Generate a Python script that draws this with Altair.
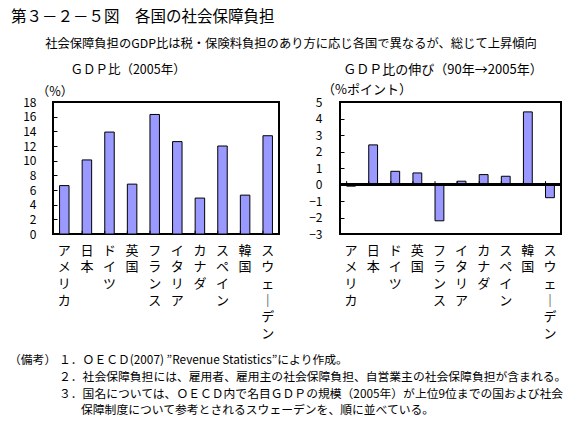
import altair as alt
import pandas as pd

countries = ["アメリカ", "日本", "ドイツ", "英国", "フランス", "イタリア", "カナダ", "スペイン", "韓国", "スウェーデン"]
ratio_2005 = [6.6, 10.1, 13.9, 6.8, 16.3, 12.6, 4.9, 12.0, 5.3, 13.4]
growth_90_05 = [-0.1, 2.4, 0.8, 0.7, -2.2, 0.2, 0.6, 0.5, 4.4, -0.8]
left_ticks = [0, 2, 4, 6, 8, 10, 12, 14, 16, 18]
right_ticks = [-3, -2, -1, 0, 1, 2, 3, 4, 5]

main_title = "第３－２－５図　各国の社会保障負担"
subtitle = "社会保障負担のGDP比は税・保険料負担のあり方に応じ各国で異なるが、総じて上昇傾向"
left_title = "ＧＤＰ比（2005年）"
right_title = "ＧＤＰ比の伸び（90年→2005年）"
left_unit = "（%）"
right_unit = "（%ポイント）"
notes_head = "（備考）"
notes = [
    "１．ＯＥＣＤ(2007) \u201dRevenue Statistics\u201dにより作成。",
    "２．社会保障負担には、雇用者、雇用主の社会保障負担、自営業主の社会保障負担が含まれる。",
    "３．国名については、ＯＥＣＤ内で名目ＧＤＰの規模（2005年）が上位9位までの国および社会",
    "保障制度について参考とされるスウェーデンを、順に並べている。",
]

FONT = "Noto Sans CJK JP"
BAR = "#9999FF"

df_left = pd.DataFrame({"country": countries, "value": ratio_2005})
df_right = pd.DataFrame({"country": countries, "value": growth_90_05})

label_expr = "split(replace(datum.label, 'ー', '｜'), '')"

XAXIS = alt.Axis(
    title=None, labelAngle=0, labelExpr=label_expr, labelLineHeight=16.7,
    labelBaseline="top", labelAlign="center", labelFont=FONT, labelFontSize=13,
    labelColor="black", ticks=False, domain=False, labelPadding=10,
    labelOverlap=False,
)


def xenc(pad, band=None):
    kw = {}
    if band is not None:
        kw["bandPosition"] = band
    return alt.X(
        "country:N",
        sort=countries,
        scale=alt.Scale(paddingInner=pad, paddingOuter=pad / 2),
        axis=XAXIS,
        **kw,
    )


def yaxis(values, pad):
    return alt.Axis(
        title=None, values=values, grid=False, domain=False, offset=-4, tickSize=4,
        tickColor="black", labelPadding=pad, labelFont=FONT, labelFontSize=12,
        labelColor="black", labelOverlap=False, labelFlush=False, labelBound=False,
    )


def txt(s, x, y, size=12, align="left"):
    return alt.Chart(pd.DataFrame({"t": [s]})).mark_text(
        font=FONT, fontSize=size, align=align, baseline="middle", color="black"
    ).encode(x=alt.value(x), y=alt.value(y), text="t:N")


def panel_layers(df, pad, domain, ticks, lpad, tick_len, zero_line):
    yscale = alt.Scale(domain=domain, nice=False)
    yax = yaxis(ticks, lpad)
    bars = alt.Chart(df).mark_bar(color=BAR, stroke="black", strokeWidth=1).encode(
        x=xenc(pad),
        y=alt.Y("value:Q", scale=yscale, axis=yax),
    )
    tk = alt.Chart(df).mark_rule(color="black", strokeWidth=1).encode(
        x=xenc(pad, 0),
        y=alt.YDatum(0, type="quantitative", scale=yscale, axis=yax),
        y2=alt.Y2Datum(tick_len),
    )
    layers = [bars]
    if zero_line:
        layers.append(
            alt.Chart(df).mark_rule(color="black", strokeWidth=2).encode(
                y=alt.YDatum(0, type="quantitative", scale=yscale, axis=yax)
            )
        )
    layers.append(tk)
    return layers


NS = 11.8
left_layers = panel_layers(df_left, 0.58, [0, 18], left_ticks, 17, 0.45, False) + [
    txt(main_title, -42, -85, 15.5),
    txt(subtitle, 238, -58, 12.3, "center"),
    txt(left_title, 75, -32, 12.5, "center"),
    txt(left_unit, 2, -10, 12.5, "center"),
    txt(notes_head, -44, 258, NS),
    txt(notes[0], 6, 258, NS),
    txt(notes[1], 6, 275, NS),
    txt(notes[2], 6, 292, NS),
    txt(notes[3], 28, 308, NS),
]
left = alt.layer(*left_layers).properties(width=226, height=132)

right_layers = panel_layers(df_right, 0.6, [-3, 5], right_ticks, 18, 0.2, True) + [
    txt(right_title, 103, -32, 13, "center"),
    txt(right_unit, 27, -12, 13, "center"),
]
right = alt.layer(*right_layers).properties(width=221, height=132)

chart = alt.hconcat(left, right, spacing=61, bounds="flush").properties(
    padding={"left": 0, "top": 1, "right": 0, "bottom": 0}, background="white"
).configure_view(stroke="black", strokeWidth=2).configure_concat(spacing=61)

chart.save("out.html", embed_options={"renderer": "svg", "actions": False})
